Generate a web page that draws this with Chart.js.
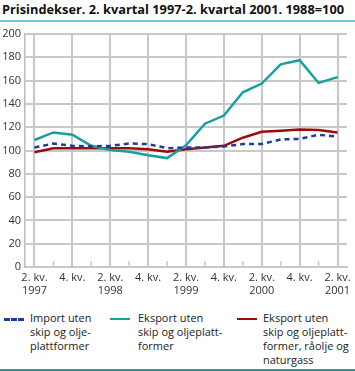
<!DOCTYPE html>
<html>
<head>
<meta charset="utf-8">
<script src="https://cdn.jsdelivr.net/npm/chart.js@4/dist/chart.umd.min.js"></script>
<style>
  html, body { margin: 0; padding: 0; background: #fff; }
  body { width: 355px; height: 371px; position: relative; overflow: hidden; font-family: "Open Sans", sans-serif; color: #222; }
  #title { position: absolute; left: 2px; top: 0px; font-weight: bold; font-size: 12.8px; white-space: nowrap; color: #111; }
  #topline { position: absolute; left: 0; top: 20px; width: 355px; height: 2px; background: #66cccc; }
  #botline { position: absolute; left: 0; top: 369px; width: 355px; height: 2px; background: #1a9e9e; }
  #wrap { position: absolute; left: 0; top: 0; width: 355px; height: 305px; }
  .leg { position: absolute; top: 311px; font-size: 11px; line-height: 14px; color: #222; }
  .sw { position: absolute; top: 318px; width: 20px; height: 0; }
</style>
</head>
<body>
<div id="title">Prisindekser. 2. kvartal 1997-2. kvartal 2001. 1988=100</div>
<div id="topline"></div>
<div id="wrap"><canvas id="c" width="355" height="305"></canvas></div>
<div class="sw" style="left:4px; border-top:3px dashed #1a3f9a;"></div>
<div class="leg" style="left:30px;">Import uten<br>skip og olje-<br>plattformer</div>
<div class="sw" style="left:110px; border-top:2.5px solid #18a09c;"></div>
<div class="leg" style="left:138px;">Eksport uten<br>skip og oljeplatt-<br>former</div>
<div class="sw" style="left:237px; border-top:2.5px solid #9e0b0b;"></div>
<div class="leg" style="left:263px;">Eksport uten<br>skip og oljeplatt-<br>former, råolje og<br>naturgass</div>
<div id="botline"></div>
<script>
const tickLabels = [["2. kv.","1997"], "", "4. kv.", "", ["2. kv.","1998"], "", "4. kv.", "", ["2. kv.","1999"], "", "4. kv.", "", ["2. kv.","2000"], "", "4. kv.", "", ["2. kv.","2001"]];
const importVals = [102.5, 106, 104, 103.5, 104, 106, 105.5, 102, 102.5, 102.5, 103.5, 105.5, 105.5, 109.5, 110, 113.5, 112];
const eksportVals = [109, 115.5, 113.5, 104, 100.5, 99, 96, 93.5, 104.5, 123, 130, 150, 157.5, 174, 177.5, 158, 163];
const eksportOljeVals = [98.5, 102, 102, 102, 102, 102, 101, 99, 101, 102.5, 104, 111, 116, 117, 118, 117.5, 115.5];
const seriesNames = ["Import uten skip og oljeplattformer", "Eksport uten skip og oljeplattformer", "Eksport uten skip og oljeplattformer, råolje og naturgass"];
const yMin = 0, yMax = 200, yStep = 20;

const minorTicks = {
  id: 'minorTicks',
  beforeDatasetsDraw(chart) {
    const xs = chart.scales.x, ca = chart.chartArea, ctx = chart.ctx;
    ctx.save();
    ctx.strokeStyle = '#c8c8c8';
    ctx.lineWidth = 1.5;
    tickLabels.forEach((l, i) => {
      if (i % 2 === 1) {
        const x = xs.getPixelForValue(i);
        ctx.beginPath();
        ctx.moveTo(x, ca.bottom);
        ctx.lineTo(x, ca.bottom - 6);
        ctx.stroke();
      }
    });
    ctx.restore();
  }
};

new Chart(document.getElementById('c'), {
  type: 'line',
  data: {
    labels: tickLabels,
    datasets: [
      { label: seriesNames[0], data: importVals, borderColor: '#1a3f9a', borderWidth: 2.5, borderDash: [5, 4], pointRadius: 0, tension: 0, fill: false },
      { label: seriesNames[1], data: eksportVals, borderColor: '#18a09c', borderWidth: 2.5, pointRadius: 0, tension: 0, fill: false },
      { label: seriesNames[2], data: eksportOljeVals, borderColor: '#9e0b0b', borderWidth: 2.5, pointRadius: 0, tension: 0, fill: false }
    ]
  },
  options: {
    responsive: false,
    animation: false,
    devicePixelRatio: 1,
    layout: { padding: { top: 34, right: 8, left: 0, bottom: 0 } },
    plugins: { legend: { display: false }, title: { display: false }, tooltip: { enabled: false } },
    scales: {
      x: {
        type: 'category',
        offset: true,
        afterFit: s => { s.height = 38; },
        grid: {
          offset: false,
          drawTicks: false,
          color: c => (c.index % 2 === 0 ? '#c8c8c8' : 'rgba(0,0,0,0)'),
          lineWidth: 2
        },
        border: { display: true, color: '#c8c8c8', width: 2 },
        ticks: {
          autoSkip: false, maxRotation: 0, minRotation: 0, padding: 4,
          color: '#333',
          font: { family: '"Open Sans", sans-serif', size: 11, lineHeight: 1.2 }
        }
      },
      y: {
        min: yMin, max: yMax,
        afterFit: s => { s.width = 25; },
        grid: { drawTicks: false, color: '#c8c8c8', lineWidth: 2 },
        border: { display: true, color: '#bbbbbb', width: 1.5 },
        ticks: {
          stepSize: yStep, padding: 4, color: '#333',
          font: { family: '"Open Sans", sans-serif', size: 11 }
        }
      }
    }
  },
  plugins: [minorTicks]
});
</script>
</body>
</html>
